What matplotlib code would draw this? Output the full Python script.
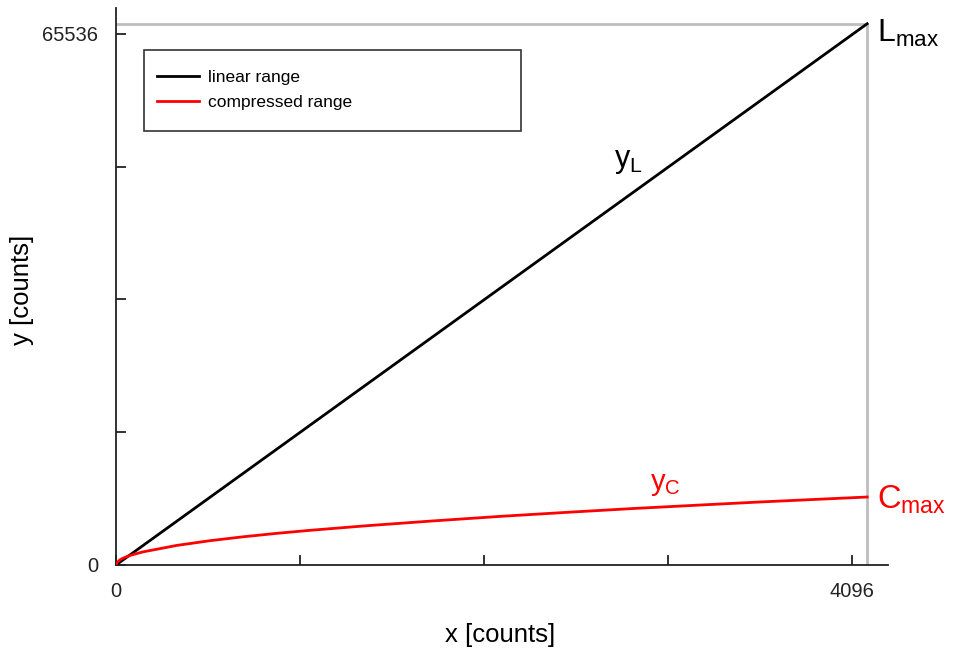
import numpy as np
import matplotlib.pyplot as plt
from matplotlib.patches import Rectangle

plt.rcParams['font.family'] = ['Liberation Sans', 'DejaVu Sans']
plt.rcParams['mathtext.fontset'] = 'custom'
plt.rcParams['mathtext.rm'] = 'Liberation Sans'

# data
x_lin = [0, 4180]
y_lin = [0, 66800]
x_comp = [0, 6, 22, 45, 78, 150, 240, 339, 523, 707, 896, 1080, 1397, 1764,
          2137, 2510, 2877, 3250, 3567, 3935, 4180]
y_comp = [0, 320, 640, 900, 1180, 1620, 2000, 2420, 3000, 3480, 3910, 4280,
          4850, 5440, 6000, 6500, 6970, 7400, 7760, 8140, 8390]
x_ticks = [0, 1024, 2048, 3072, 4096]
x_ticklabels = ['0', '', '', '', '4096']
y_ticks = [0, 16384, 32768, 49152, 65536]
y_ticklabels = ['0', '', '', '', '65536']

W, H = 957, 650
fig = plt.figure(figsize=(W / 100, H / 100), dpi=100)
ax = fig.add_axes([116 / W, (H - 565) / H, (888 - 116) / W, (565 - 8) / H])

ax.set_xlim(0, 4296)
ax.set_ylim(0, 68744)

# grey guide lines at the end of the linear range
ax.plot([0, x_lin[1], x_lin[1]], [y_lin[1], y_lin[1], 0], color='#bdbdbd', lw=2, zorder=1)

ax.plot(x_lin, y_lin, color='black', lw=2, label='linear range', zorder=3)
ax.plot(x_comp, y_comp, color='red', lw=2, label='compressed range', zorder=3)

for s in ['top', 'right']:
    ax.spines[s].set_visible(False)
for s in ['left', 'bottom']:
    ax.spines[s].set_linewidth(1.3)
    ax.spines[s].set_color('#222222')

ax.set_xticks(x_ticks)
ax.set_xticklabels(x_ticklabels)
ax.set_yticks(y_ticks)
ax.set_yticklabels(y_ticklabels)
ax.tick_params(direction='in', length=7, width=1.3, labelsize=14.5, colors='#222222')
ax.tick_params(axis='y', pad=13)
ax.tick_params(axis='x', pad=12)

ax.set_xlabel('x [counts]', fontsize=18.5)
ax.set_ylabel('y [counts]', fontsize=18.5)
ax.xaxis.set_label_coords((500 - 116) / 772, (565 - 635) / 557)
ax.yaxis.set_label_coords((22 - 116) / 772, (565 - 290) / 557)
ax.xaxis.label.set_va('center')
ax.yaxis.label.set_va('center')

# legend box
box = Rectangle(((144 - 116) / 772, (565 - 131) / 557), (521 - 144) / 772, (131 - 50) / 557,
                transform=ax.transAxes, fill=False, edgecolor='#333333', lw=1.2, zorder=4)
ax.add_patch(box)
ax.legend(loc='upper left', bbox_to_anchor=((150 - 116) / 772, (565 - 63) / 557),
          frameon=False, fontsize=12.5, handlelength=2.4, handletextpad=0.55,
          labelspacing=0.55, borderaxespad=0)

ax.annotate(r'$\mathregular{y_L}$', xy=(614, H - 167), xycoords='figure pixels', fontsize=22)
ax.annotate(r'$\mathregular{L_{max}}$', xy=(877, H - 42), xycoords='figure pixels',
            fontsize=23, color='black')
ax.annotate(r'$\mathregular{y_C}$', xy=(650, H - 490), xycoords='figure pixels',
            fontsize=21, color='red')
ax.annotate(r'$\mathregular{C_{max}}$', xy=(877, H - 509), xycoords='figure pixels',
            fontsize=23.5, color='red')

fig.savefig('out.png', dpi=100)
